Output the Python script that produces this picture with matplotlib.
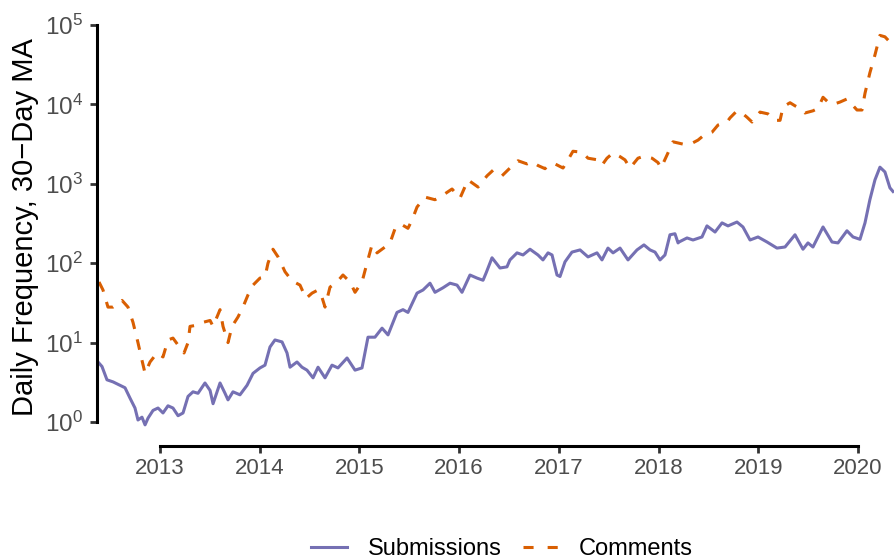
import matplotlib
matplotlib.use("Agg")
import matplotlib.pyplot as plt
from matplotlib.lines import Line2D

plt.rcParams['font.family'] = ['Liberation Sans', 'DejaVu Sans']
plt.rcParams['mathtext.fontset'] = 'custom'
plt.rcParams['mathtext.rm'] = 'Liberation Sans'
plt.rcParams['mathtext.it'] = 'Liberation Sans:italic'

# ---- data (decimal year, 30-day moving average) ----
sub_years = [2012.378, 2012.418, 2012.468, 2012.529, 2012.599, 2012.649, 2012.699, 2012.749,
             2012.779, 2012.819, 2012.850, 2012.880, 2012.930, 2012.980, 2013.030, 2013.080,
             2013.130, 2013.181, 2013.231, 2013.281, 2013.331, 2013.381, 2013.451, 2013.502,
             2013.532, 2013.602, 2013.652, 2013.682, 2013.732, 2013.802, 2013.873, 2013.933,
             2014.003, 2014.053, 2014.103, 2014.153, 2014.224, 2014.274, 2014.304, 2014.374,
             2014.424, 2014.474, 2014.535, 2014.585, 2014.655, 2014.725, 2014.785, 2014.876,
             2014.956, 2015.026, 2015.086, 2015.156, 2015.227, 2015.287, 2015.377, 2015.437,
             2015.487, 2015.578, 2015.638, 2015.708, 2015.758, 2015.838, 2015.909, 2015.979,
             2016.029, 2016.109, 2016.179, 2016.240, 2016.270, 2016.330, 2016.410, 2016.480,
             2016.510, 2016.581, 2016.641, 2016.711, 2016.791, 2016.841, 2016.892, 2016.932,
             2016.982, 2017.012, 2017.062, 2017.132, 2017.213, 2017.293, 2017.383, 2017.433,
             2017.493, 2017.544, 2017.614, 2017.694, 2017.784, 2017.854, 2017.915, 2017.965,
             2018.015, 2018.065, 2018.115, 2018.165, 2018.196, 2018.206, 2018.286, 2018.346,
             2018.436, 2018.486, 2018.567, 2018.637, 2018.697, 2018.787, 2018.847, 2018.918,
             2018.998, 2019.088, 2019.188, 2019.269, 2019.369, 2019.449, 2019.499, 2019.549,
             2019.650, 2019.740, 2019.800, 2019.890, 2019.951, 2020.021, 2020.071, 2020.120,
             2020.171, 2020.221, 2020.271, 2020.321, 2020.352]
sub_values = [5.7, 5.0, 3.4, 3.2, 2.9, 2.7, 2.0, 1.5,
              1.06, 1.15, 0.92, 1.12, 1.4, 1.5, 1.3, 1.6,
              1.5, 1.2, 1.3, 2.1, 2.4, 2.3, 3.1, 2.5,
              1.7, 3.1, 2.3, 1.9, 2.4, 2.2, 2.9, 4.1,
              4.8, 5.2, 8.8, 10.8, 10.2, 7.4, 4.9, 5.7,
              4.9, 4.5, 3.6, 4.9, 3.6, 5.2, 4.8, 6.4,
              4.5, 4.8, 11.7, 11.7, 15.2, 12.5, 24, 26,
              24, 42, 46, 56, 43, 49, 56, 53,
              43, 71, 65, 61, 75, 117, 87, 90,
              110, 135, 127, 150, 127, 110, 135, 127,
              71, 68, 104, 138, 147, 120, 135, 110,
              155, 135, 155, 110, 147, 170, 147, 138,
              110, 127, 228, 235, 180, 185, 208, 196,
              214, 295, 247, 322, 295, 330, 286, 196,
              214, 185, 155, 160, 228, 150, 180, 160,
              286, 185, 180, 256, 214, 200, 322, 630,
              1120, 1620, 1410, 890, 800]

com_years = [2012.388, 2012.428, 2012.478, 2012.529, 2012.579, 2012.619, 2012.679, 2012.729,
             2012.779, 2012.819, 2012.850, 2012.900, 2012.970, 2013.030, 2013.080, 2013.130,
             2013.181, 2013.241, 2013.281, 2013.301, 2013.371, 2013.431, 2013.502, 2013.532,
             2013.602, 2013.632, 2013.682, 2013.722, 2013.782, 2013.832, 2013.883, 2013.933,
             2014.003, 2014.053, 2014.083, 2014.133, 2014.184, 2014.254, 2014.324, 2014.404,
             2014.464, 2014.525, 2014.585, 2014.625, 2014.655, 2014.705, 2014.775, 2014.835,
             2014.906, 2014.956, 2015.026, 2015.076, 2015.126, 2015.177, 2015.257, 2015.307,
             2015.367, 2015.437, 2015.487, 2015.528, 2015.578, 2015.658, 2015.758, 2015.838,
             2015.929, 2016.009, 2016.089, 2016.190, 2016.280, 2016.340, 2016.430, 2016.510,
             2016.591, 2016.681, 2016.731, 2016.791, 2016.862, 2016.892, 2016.962, 2017.042,
             2017.092, 2017.142, 2017.233, 2017.293, 2017.393, 2017.433, 2017.483, 2017.544,
             2017.614, 2017.664, 2017.714, 2017.794, 2017.854, 2017.935, 2017.995, 2018.025,
             2018.085, 2018.145, 2018.246, 2018.336, 2018.396, 2018.446, 2018.537, 2018.597,
             2018.687, 2018.717, 2018.787, 2018.847, 2018.887, 2018.938, 2019.018, 2019.098,
             2019.168, 2019.219, 2019.249, 2019.319, 2019.369, 2019.419, 2019.469, 2019.549,
             2019.599, 2019.650, 2019.700, 2019.750, 2019.820, 2019.890, 2019.940, 2019.991,
             2020.041, 2020.071, 2020.120, 2020.171, 2020.221, 2020.271, 2020.321, 2020.352]
com_values = [58, 46, 28, 28, 31, 34, 28, 18,
              10, 6.0, 4.1, 5.7, 7.4, 6.6, 10.8, 11.4,
              9.3, 7.4, 10, 16, 16.6, 18, 19, 16,
              26, 16, 10, 16, 21, 28, 40, 53,
              65, 67, 100, 150, 120, 78, 60, 53,
              36, 42, 46, 37, 28, 50, 58, 71,
              58, 43, 58, 100, 170, 135, 160, 180,
              295, 300, 275, 350, 510, 680, 630, 720,
              860, 660, 1120, 910, 1260, 1480, 1260, 1580,
              1950, 1780, 1900, 1700, 1550, 1720, 1780, 1580,
              2000, 2570, 2500, 2100, 2000, 1720, 2100, 2450,
              2200, 2000, 1580, 2100, 2230, 2100, 1850, 1580,
              2300, 3380, 3160, 3240, 3550, 4000, 4470, 5500,
              6000, 6760, 8300, 7600, 6900, 6000, 8000, 7600,
              6300, 6300, 9300, 10500, 9600, 8900, 7800, 8300,
              8900, 12300, 10700, 10000, 10700, 11700, 10000, 8500,
              8500, 13800, 25000, 42000, 74000, 71000, 61000, 57000]

year_ticks = [2013, 2014, 2015, 2016, 2017, 2018, 2019, 2020]
pow_ticks = [0, 1, 2, 3, 4, 5]

sub_color = '#7570B3'
com_color = '#D95F02'
tick_grey = '#4D4D4D'
dash = (0, (3.5, 3.5))

fig = plt.figure(figsize=(8.95, 5.6), dpi=100)
ax = fig.add_axes([97 / 895, 1 - 429.7 / 560, 1 - 97 / 895, (429.7 - 25) / 560])

ax.plot(sub_years, sub_values, color=sub_color, lw=2.2, solid_joinstyle='round')
ax.plot(com_years, com_values, color=com_color, lw=2.2, linestyle=dash)

ax.set_yscale('log')
ax.set_ylim(0.8, 1e5)
ax.set_xlim(2012.368, 2020.372)

ax.set_yticks([10 ** p for p in pow_ticks])
ax.set_yticklabels([f'$10^{{{p}}}$' for p in pow_ticks])
ax.yaxis.set_minor_locator(matplotlib.ticker.NullLocator())
ax.set_xticks(year_ticks)
ax.set_xticklabels([str(y) for y in year_ticks])

for s in ['top', 'right']:
    ax.spines[s].set_visible(False)
ax.spines['left'].set_bounds(1, 1e5)
ax.spines['bottom'].set_bounds(2013, 2020)
ax.spines['bottom'].set_position(('outward', 11.5))
ax.spines['left'].set_linewidth(2.2)
ax.spines['bottom'].set_linewidth(2.2)

ax.tick_params(axis='both', which='major', length=5, width=2, color='#333333',
               labelcolor=tick_grey, pad=4)
ax.tick_params(axis='x', labelsize=16)
ax.tick_params(axis='y', labelsize=17.5, pad=5)

ax.set_ylabel('Daily Frequency, 30\u2212Day MA', fontsize=21, color='black', labelpad=4)

handles = [Line2D([], [], color=sub_color, lw=2.2),
           Line2D([], [], color=com_color, lw=2.2, linestyle=(0, (3.3, 4.6)))]
fig.legend(handles, ['Submissions', 'Comments'], loc='center', ncol=2, frameon=False,
           bbox_to_anchor=(502 / 895, 1 - 549 / 560), fontsize=17, handlelength=1.55,
           columnspacing=0.9, handletextpad=0.85)

fig.savefig('out.png', dpi=100)
